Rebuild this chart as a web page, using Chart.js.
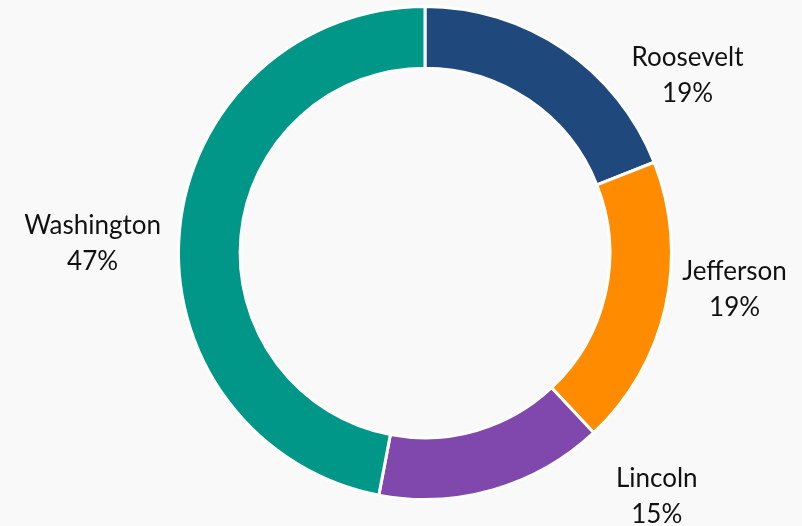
<!DOCTYPE html>
<html>
<head>
<meta charset="utf-8">
<script src="https://cdn.jsdelivr.net/npm/chart.js@4.4.1/dist/chart.umd.min.js"></script>
<style>
  html, body { margin: 0; padding: 0; background: #f9f9f9; }
  #wrap { width: 802px; height: 526px; }
</style>
</head>
<body>
<div id="wrap"><canvas id="myChart" width="802" height="526"></canvas></div>
<script>
let labels = ["Roosevelt", "Jefferson", "Lincoln", "Washington"];
let shares = [19, 19, 15, 47];
let colors = ['#1f497d', '#ff8c00', '#8048ad', '#009688'];

// where each name/percent pair sits relative to the outer midpoint of its slice
const labelOffsets = [
    { dx: 124, dy: 26 },
    { dx: 69, dy: -17 },
    { dx: 163, dy: 7 },
    { dx: -87, dy: 14 }
];

const outsideLabels = {
    id: 'outsideLabels',
    afterDatasetsDraw(chart) {
        const ctx = chart.ctx;
        const meta = chart.getDatasetMeta(0);
        ctx.save();
        ctx.font = '26px Lato, "Open Sans", sans-serif';
        ctx.fillStyle = '#111';
        ctx.textAlign = 'center';
        ctx.textBaseline = 'middle';
        meta.data.forEach(function(arc, i) {
            const mid = (arc.startAngle + arc.endAngle) / 2;
            const x = arc.x + Math.cos(mid) * arc.outerRadius + labelOffsets[i].dx;
            const y = arc.y + Math.sin(mid) * arc.outerRadius + labelOffsets[i].dy;
            ctx.fillText(labels[i], x, y - 18);
            ctx.fillText(shares[i] + '%', x, y + 18);
        });
        ctx.restore();
    }
};

const data = {
    labels: labels,
    datasets: [{
        data: shares,
        backgroundColor: colors,
        borderColor: '#ffffff',
        borderWidth: 3
    }]
};

const config = {
    type: 'doughnut',
    data: data,
    options: {
        responsive: false,
        animation: false,
        cutout: '75%',
        layout: {
            padding: { top: 5, bottom: 25, left: 48, right: 0 }
        },
        plugins: {
            legend: { display: false },
            tooltip: { enabled: false }
        }
    },
    plugins: [outsideLabels]
};

const chart = new Chart(document.getElementById('myChart'), config);
</script>
</body>
</html>
